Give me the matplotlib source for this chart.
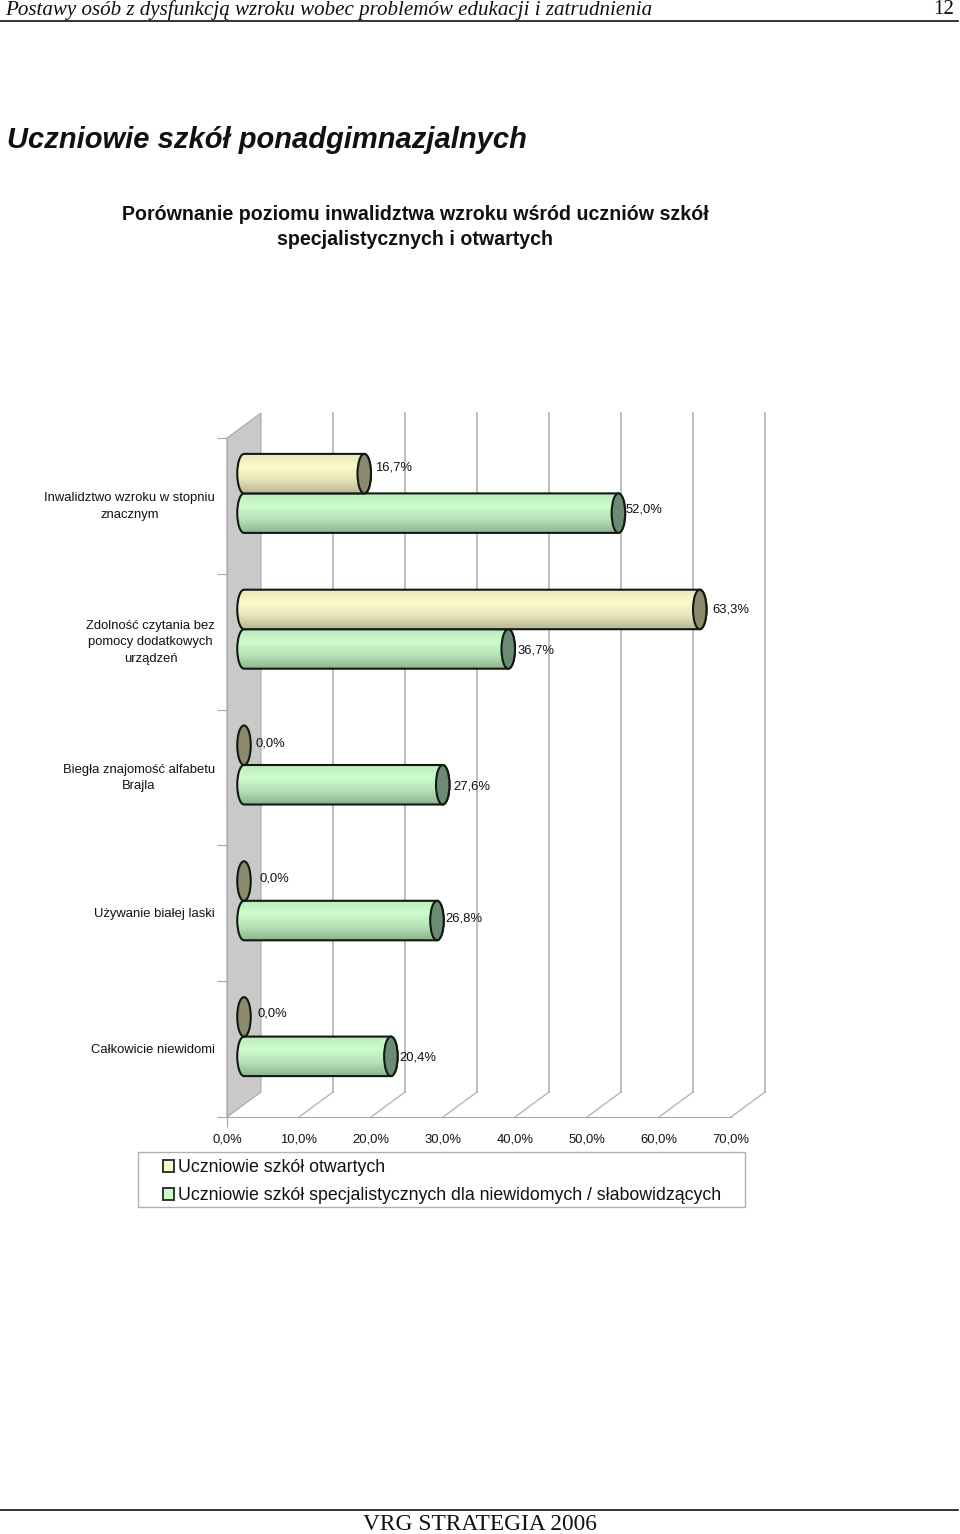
import numpy as np
import matplotlib
matplotlib.use('Agg')
from matplotlib import pyplot as plt
from matplotlib.colors import LinearSegmentedColormap
from matplotlib.patches import Ellipse, PathPatch, Patch, Polygon, Rectangle
from matplotlib.path import Path
from matplotlib.lines import Line2D
from matplotlib.transforms import ScaledTranslation

W, H = 960, 1534

categories = ['Inwalidztwo wzroku w stopniu\nznacznym',
              'Zdolność czytania bez\npomocy dodatkowych\nurządzeń',
              'Biegła znajomość alfabetu\nBrajla',
              'Używanie białej laski',
              'Całkowicie niewidomi']
otwarte = [16.7, 63.3, 0.0, 0.0, 0.0]
specjalne = [52.0, 36.7, 27.6, 26.8, 20.4]
series_names = ['Uczniowie szkół otwartych',
                'Uczniowie szkół specjalistycznych dla niewidomych / słabowidzących']
xticks = [0, 10, 20, 30, 40, 50, 60, 70]
xticklabels = ['0,0%', '10,0%', '20,0%', '30,0%', '40,0%', '50,0%', '60,0%', '70,0%']

# pixel nudges of the value labels, the source chart places them by hand
otwarte_dx, otwarte_dy = [11, 13, 12, 15, 13], [-6, 0, -2, -3, -3]
specjalne_dx, specjalne_dy = [7, 9, 11, 8, 8], [-4, 2, 2, -2, 1]

plt.rcParams['font.family'] = ['Liberation Sans', 'DejaVu Sans']
SERIF = ['Liberation Serif', 'DejaVu Serif']
GRID = '#b4b4b4'
TXT = '#111111'


def pt(px):
    return px * 0.72


def ftext(x, y, s, **kw):
    fig.text(x / W, 1 - y / H, s, va='center', **kw)


fig = plt.figure(figsize=(W / 100, H / 100), dpi=100)

# axes = front plane of the fake 3d box
left, right, top, bottom = 227, 731, 438, 1117
ax = fig.add_axes([left / W, 1 - bottom / H, (right - left) / W, (bottom - top) / H])
ax.set_xlim(0, 70)
ax.set_ylim(5, 0)
ax.patch.set_alpha(0)

px_x = (right - left) / 70
px_y = (bottom - top) / 5
depth_x = 34 / px_x
depth_y = 25 / px_y
bar_h = 39.5 / px_y
cap_w = 13.5 / px_x

# back wall, floor lines and back grid
ax.add_patch(Polygon([(0, 0), (depth_x, -depth_y), (depth_x, 5 - depth_y), (0, 5)],
                     closed=True, fc='#c9c9c9', ec='#a8a8a8', lw=0.8, zorder=1, clip_on=False))
for t in xticks[1:]:
    ax.plot([t + depth_x, t + depth_x], [-depth_y, 5 - depth_y], color=GRID, lw=1.2,
            clip_on=False, zorder=1)
    ax.plot([t, t + depth_x], [5, 5 - depth_y], color=GRID, lw=1, clip_on=False, zorder=1)

yellow = LinearSegmentedColormap.from_list('y', ['#e9e7bb', '#fbfacb', '#e6e4ba', '#b9b795'])
green = LinearSegmentedColormap.from_list('g', ['#bdeabd', '#ccfdcb', '#b6e2b6', '#8fb392'])


def draw_bar(value, yc, cmap, capcol, z):
    x0 = depth_x / 2
    x1 = x0 + value
    a, b = cap_w / 2, bar_h / 2
    if value > 0:
        k = 0.5523
        verts = [(x0, yc - b), (x1, yc - b),
                 (x1 + a * k, yc - b), (x1 + a, yc - b * k), (x1 + a, yc),
                 (x1 + a, yc + b * k), (x1 + a * k, yc + b), (x1, yc + b),
                 (x0, yc + b),
                 (x0 - a * k, yc + b), (x0 - a, yc + b * k), (x0 - a, yc),
                 (x0 - a, yc - b * k), (x0 - a * k, yc - b), (x0, yc - b)]
        codes = [Path.MOVETO, Path.LINETO] + [Path.CURVE4] * 6 + [Path.LINETO] + [Path.CURVE4] * 6
        outline = PathPatch(Path(verts, codes), fc='none', ec='#101a10', lw=1.5, zorder=z + 0.2)
        ax.add_patch(outline)
        im = ax.imshow(np.linspace(0, 1, 64).reshape(-1, 1), cmap=cmap, aspect='auto',
                       extent=[x0 - a, x1 + a, yc + b, yc - b], zorder=z)
        im.set_clip_path(outline)
    ax.add_patch(Ellipse((x1, yc), cap_w, bar_h, fc=capcol, ec='#101a10', lw=1.5,
                         zorder=z + 0.3, clip_on=False))


for i in range(len(categories)):
    yc = i + 0.5 - depth_y / 2
    draw_bar(specjalne[i], yc + bar_h / 2, green, '#6b8b74', 3)
    draw_bar(otwarte[i], yc - bar_h / 2, yellow, '#8b8a6c', 4)
    for val, dx, dy, sign in ((otwarte[i], otwarte_dx[i], otwarte_dy[i], -1),
                              (specjalne[i], specjalne_dx[i], specjalne_dy[i], 1)):
        ax.annotate(f'{val:.1f}%'.replace('.', ','),
                    xy=(depth_x / 2 + val, yc + sign * bar_h / 2),
                    xytext=(pt(dx), -pt(dy)), textcoords='offset points',
                    ha='left', va='center', fontsize=9.4, color=TXT, zorder=6)

ax.set_xlim(0, 70)
ax.set_ylim(5, 0)

for s in ('top', 'right'):
    ax.spines[s].set_visible(False)
for s in ('left', 'bottom'):
    ax.spines[s].set_color('#a8a8a8')
    ax.spines[s].set_zorder(2)

ax.set_xticks(xticks)
ax.set_xticklabels(xticklabels, fontsize=9.4, color=TXT)
ax.tick_params(axis='x', length=pt(10), pad=pt(6), color='#a8a8a8')
for tick in ax.xaxis.get_major_ticks()[1:]:
    tick.tick1line.set_visible(False)

ax.set_yticks(range(6))
ax.set_yticklabels([])
ax.tick_params(axis='y', which='major', length=pt(10), color='#a8a8a8')
ax.set_yticks(np.arange(5) + 0.5 - 0.5 / px_y, minor=True)
ylabels = ax.set_yticklabels(categories, minor=True, fontsize=9.4, color=TXT,
                             multialignment='center', linespacing=1.5)
ax.tick_params(axis='y', which='minor', length=0, pad=pt(12))
# wrapped labels sit a little higher than the single line ones
for lab in ylabels:
    if '\n' in lab.get_text():
        lab.set_transform(lab.get_transform() + ScaledTranslation(0, pt(2.5) / 72, fig.dpi_scale_trans))

# legend
fig.add_artist(Rectangle((138 / W, 1 - 1207 / H), 607 / W, 55 / H, transform=fig.transFigure,
                         fc='none', ec='#b0b0b0', lw=1))
handles = [Patch(fc='#fbfacb', ec='#333333', lw=1.4), Patch(fc='#ccfdcb', ec='#333333', lw=1.4)]
fig.legend(handles, series_names, loc='upper left', bbox_to_anchor=(163 / W, 1 - 1159 / H),
           frameon=False, fontsize=12.8, handlelength=0.62, handleheight=0.62, handletextpad=0.22,
           labelspacing=0.62, borderpad=0, borderaxespad=0, labelcolor=TXT)

# page header and footer
fig.add_artist(Line2D([0, 958 / W], [1 - 21 / H] * 2, color='#111111', lw=1.2))
fig.add_artist(Line2D([0, 958 / W], [1 - 1510 / H] * 2, color='#111111', lw=1.2))
ftext(5, 10, 'Postawy osób z dysfunkcją wzroku wobec problemów edukacji i zatrudnienia',
      family=SERIF, style='italic', fontsize=15.12, color=TXT)
ftext(954, 10, '12', family=SERIF, fontsize=15.12, ha='right', color=TXT)
ftext(7, 140, 'Uczniowie szkół ponadgimnazjalnych', style='italic', weight='bold', fontsize=21, color=TXT)
ftext(415, 214, 'Porównanie poziomu inwalidztwa wzroku wśród uczniów szkół', weight='bold',
      fontsize=14.15, ha='center', color=TXT)
ftext(415, 239.5, 'specjalistycznych i otwartych', weight='bold', fontsize=14.15, ha='center', color=TXT)
ftext(479.5, 1525, 'VRG STRATEGIA 2006', family=SERIF, fontsize=16.85, ha='center', color=TXT)

fig.savefig('out.png', dpi=100)
